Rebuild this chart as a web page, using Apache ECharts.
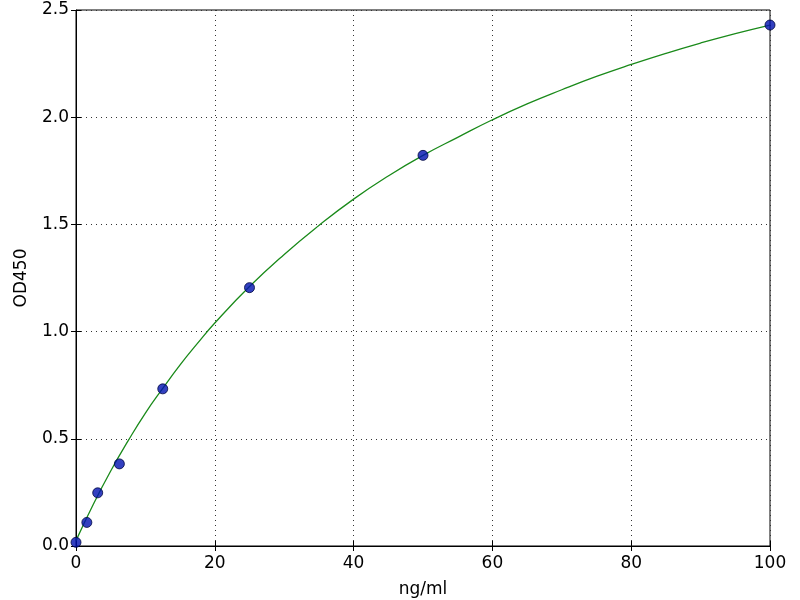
<!DOCTYPE html>
<html>
<head>
<meta charset="utf-8">
<script src="https://cdn.jsdelivr.net/npm/echarts@6/dist/echarts.min.js"></script>
<style>html,body{margin:0;padding:0;background:#fff}#c{width:800px;height:600px}</style>
</head>
<body>
<div id="c"></div>
<script>
// Standard points (concentration ng/ml, OD450)
const stdConc = [0, 1.5625, 3.125, 6.25, 12.5, 25, 50, 100];
const stdOD = [0.017, 0.11, 0.248, 0.383, 0.733, 1.205, 1.822, 2.43];
// Fitted curve
const curveX = [0, 2.5, 5, 7.5, 10, 12.5, 15, 17.5, 20, 25, 30, 35, 40, 45, 50, 55, 60, 65, 70, 75, 80, 85, 90, 95, 100];
const curveY = [0.025, 0.195, 0.35, 0.49, 0.62, 0.735, 0.845, 0.945, 1.04, 1.21, 1.36, 1.495, 1.618, 1.726, 1.822, 1.906, 1.988, 2.062, 2.128, 2.19, 2.246, 2.298, 2.346, 2.39, 2.43];
const xTicks = [0, 20, 40, 60, 80, 100];
const yTicks = [0, 0.5, 1.0, 1.5, 2.0, 2.5];

const font = 'DejaVu Sans';
const fs = 17;
const chart = echarts.init(document.getElementById('c'), null, {renderer: 'canvas'});
const gridLine = {show: true, lineStyle: {color: '#333', type: [1, 4], width: 1}};
const tickIn = {show: true, inside: true, length: 5, lineStyle: {color: '#000', width: 1}};
chart.setOption({
  animation: false,
  backgroundColor: '#fff',
  grid: {left: 76, right: 30, top: 10, bottom: 54, containLabel: false, outerBoundsMode: 'none',
         show: true, borderColor: '#000', borderWidth: 1, backgroundColor: 'transparent'},
  xAxis: [{
    type: 'value', min: xTicks[0], max: xTicks[xTicks.length - 1], interval: 20,
    name: 'ng/ml', nameLocation: 'middle', nameGap: 35,
    nameTextStyle: {fontFamily: font, fontSize: fs, color: '#000'},
    axisLine: {show: true, lineStyle: {color: '#000', width: 1}},
    axisTick: tickIn,
    axisLabel: {fontFamily: font, fontSize: fs, color: '#000', margin: 9},
    splitLine: gridLine
  }, {
    type: 'value', position: 'top', min: 0, max: 100, interval: 20,
    axisLine: {show: false}, axisTick: tickIn, axisLabel: {show: false}, splitLine: {show: false}
  }],
  yAxis: [{
    type: 'value', min: yTicks[0], max: yTicks[yTicks.length - 1], interval: 0.5,
    name: 'OD450', nameLocation: 'middle', nameGap: 46,
    nameTextStyle: {fontFamily: font, fontSize: fs, color: '#000'},
    axisLine: {show: true, lineStyle: {color: '#000', width: 1}},
    axisTick: tickIn,
    axisLabel: {fontFamily: font, fontSize: fs, color: '#000', margin: 7, formatter: v => v.toFixed(1)},
    splitLine: gridLine
  }, {
    type: 'value', position: 'right', min: 0, max: 2.5, interval: 0.5,
    axisLine: {show: false}, axisTick: tickIn, axisLabel: {show: false}, splitLine: {show: false}
  }],
  series: [{
    type: 'line',
    data: curveX.map((x, i) => [x, curveY[i]]),
    smooth: 0.5,
    showSymbol: false,
    lineStyle: {color: '#1a8a1a', width: 1.3},
    z: 2
  }, {
    type: 'scatter',
    data: stdConc.map((x, i) => [x, stdOD[i]]),
    symbolSize: 10,
    itemStyle: {color: '#0010b0', borderColor: '#000840', borderWidth: 1},
    z: 3
  }]
});
</script>
</body>
</html>
